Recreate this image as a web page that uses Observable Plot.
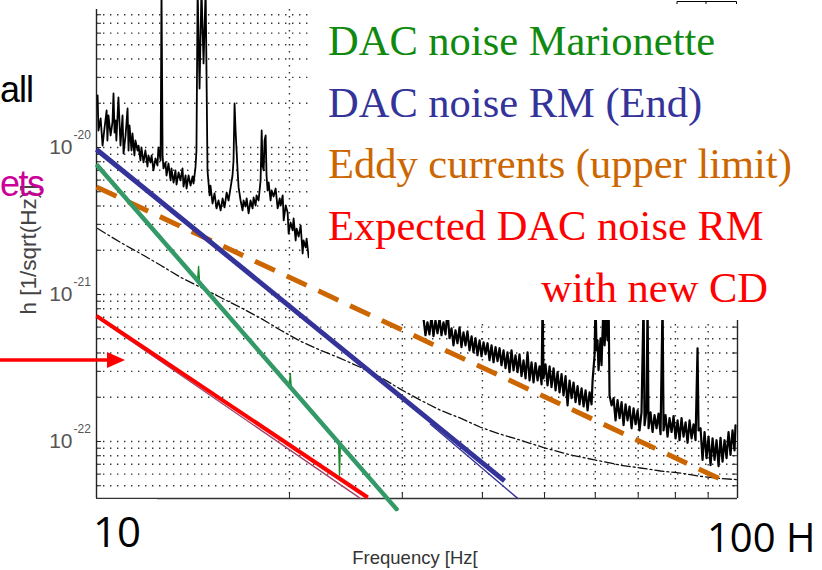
<!DOCTYPE html>
<html><head><meta charset="utf-8">
<script src="https://cdn.jsdelivr.net/npm/d3@7"></script>
<script src="https://cdn.jsdelivr.net/npm/@observablehq/plot@0.6"></script>
<style>
html,body{margin:0;padding:0;background:#fff;}
#wrap{position:relative;width:822px;height:570px;overflow:hidden;background:#fff;}
#wrap svg{position:absolute;left:0;top:0;}
</style></head><body><div id="wrap"></div>
<script>
// ---------- axes ----------
const xDomain = [10, 100];              // Hz
const yDomain = [4.094e-23, 1e-19];     // h [1/sqrt(Hz)]
const xGridTicks = [20, 30, 40, 50, 60, 70, 80, 90];
const yGridTicks = [5e-23, 6e-23, 7e-23, 8e-23, 9e-23,
  1e-22, 2e-22, 3e-22, 4e-22, 5e-22, 6e-22, 7e-22, 8e-22, 9e-22,
  1e-21, 2e-21, 3e-21, 4e-21, 5e-21, 6e-21, 7e-21, 8e-21, 9e-21,
  1e-20, 2e-20, 3e-20, 4e-20, 5e-20, 6e-20, 7e-20, 8e-20];
const yMajorTicks = [1e-22, 1e-21, 1e-20];
const yMajorExponents = ["-22", "-21", "-20"];
const xLabel = "Frequency [Hz[";
const yLabel = "h [1/sqrt(Hz)]";

// ---------- measured noise spectrum (h in units of 1e-21) ----------
const noiseLowHz = [
  10.04, 10.07, 10.15, 10.22, 10.29, 10.37, 10.40, 10.44, 10.52, 10.59,
  10.63, 10.67, 10.71, 10.74, 10.82, 10.90, 10.98, 11.02, 11.10, 11.18,
  11.22, 11.26, 11.34, 11.38, 11.46, 11.50, 11.59, 11.63, 11.71, 11.75,
  11.84, 11.92, 12.01, 12.05, 12.14, 12.19, 12.27, 12.36, 12.45, 12.49,
  12.59, 12.63, 12.68, 12.72, 12.81, 12.86, 12.95, 13.05, 13.09, 13.19,
  13.28, 13.33, 13.43, 13.52, 13.62, 13.67, 13.77, 13.82, 13.92, 14.02,
  14.12, 14.17, 14.27, 14.32, 14.38, 14.48, 14.58, 14.69, 14.80, 14.90,
  15.01, 15.06, 15.17, 15.28, 15.39, 15.50, 15.62, 15.73, 15.84, 15.96,
  16.07, 16.19, 16.30, 16.36, 16.42, 16.48, 16.54, 16.60, 16.66, 16.78,
  16.90, 16.96, 17.08, 17.15, 17.27, 17.39, 17.52, 17.58, 17.71, 17.77,
  17.90, 18.03, 18.10, 18.16, 18.23, 18.29, 18.36, 18.42, 18.49, 18.56,
  18.69, 18.76, 18.89, 19.03, 19.17, 19.31, 19.38, 19.52, 19.59, 19.73,
  19.87, 19.94, 20.08, 20.23, 20.30, 20.45, 20.52, 20.67, 20.82, 20.97,
  21.04, 21.20, 21.27, 21.43, 21.58, 22.37, 23.60, 24.90, 26.28, 27.73,
  29.27, 30.89];
const noiseLowH = [
  22.6, 13.05, 15.75, 10.31, 13.47, 17.85, 11.16, 16.51, 12.07, 14.80,
  23.30, 12.65, 15.27, 11.16, 21.88, 10.31, 16.51, 9.10, 12.07, 18.42,
  9.54, 14.12, 9.54, 12.45, 8.82, 11.16, 9.54, 10.31, 8.16, 10.0,
  7.91, 9.54, 7.42, 8.82, 7.91, 8.82, 6.98, 8.42, 7.54, 10.0,
  8.16, 120, 8.82, 7.20, 7.91, 6.45, 7.78, 5.97, 7.20, 5.78,
  6.98, 5.60, 6.76, 5.97, 7.20, 5.43, 6.45, 5.26, 6.45, 5.51,
  6.35, 5.69, 7.31, 9.54, 120, 25.2, 120, 37.3, 120, 6.98,
  4.72, 5.51, 4.16, 4.87, 3.85, 4.36, 3.73, 4.50, 3.91, 4.94,
  4.36, 5.35, 6.45, 8.16, 19.92, 13.05, 9.54, 6.98, 5.35, 4.36,
  3.73, 4.36, 3.97, 4.50, 3.56, 4.36, 3.85, 4.57, 4.03, 4.72,
  4.36, 5.97, 13.05, 7.54, 6.98, 11.16, 12.07, 6.45, 5.10, 5.78,
  4.36, 5.10, 4.64, 5.26, 3.85, 4.50, 4.03, 4.72, 3.19, 4.03,
  3.61, 2.60, 3.09, 2.73, 3.29, 2.33, 2.81, 2.48, 2.95, 1.90,
  2.33, 2.09, 2.40, 1.79, 1.99, 1.65, 1.50, 1.35, 1.21, 1.10,
  1.03, 0.91];
const noiseHighHz = [
  32.02, 32.37, 32.60, 32.83, 33.07, 33.31, 33.55, 33.79, 34.04, 34.29,
  34.53, 34.78, 35.03, 35.29, 35.54, 35.80, 36.05, 36.31, 36.57, 36.84,
  37.10, 37.37, 37.64, 37.91, 38.19, 38.47, 38.74, 39.02, 39.30, 39.59,
  39.87, 40.16, 40.45, 40.74, 41.03, 41.33, 41.63, 41.93, 42.23, 42.54,
  42.84, 43.15, 43.46, 43.77, 44.09, 44.41, 44.73, 45.05, 45.38, 45.70,
  46.03, 46.37, 46.70, 47.04, 47.38, 47.72, 48.06, 48.41, 48.76, 49.11,
  49.47, 49.65, 49.82, 50.18, 50.54, 50.91, 51.27, 51.65, 52.02, 52.39,
  52.77, 53.15, 53.53, 53.92, 54.31, 54.70, 55.10, 55.49, 55.89, 56.30,
  56.70, 57.11, 57.53, 57.94, 58.36, 58.78, 59.20, 59.42, 59.84, 60.05,
  60.27, 60.49, 60.70, 61.14, 61.36, 61.81, 62.03, 62.25, 62.47, 62.70,
  62.93, 63.15, 63.61, 64.07, 64.53, 65.00, 65.47, 65.94, 66.41, 66.89,
  67.37, 67.86, 68.35, 68.84, 69.34, 69.84, 70.34, 70.84, 71.36, 71.61,
  72.13, 72.39, 72.65, 73.17, 73.70, 74.23, 74.77, 75.31, 75.85, 76.40,
  76.67, 77.22, 77.78, 78.34, 78.91, 79.48, 80.05, 80.63, 81.21, 81.79,
  82.38, 82.98, 83.58, 84.18, 84.79, 85.40, 86.01, 86.63, 86.94, 87.57,
  88.20, 88.84, 89.48, 90.12, 90.77, 91.43, 92.09, 92.75, 93.42, 94.09,
  94.77, 95.45, 96.14, 96.83, 97.52, 98.23, 98.93, 99.28];
const noiseHighH = [
  0.84, 0.687, 0.528, 0.647, 0.536, 0.708, 0.52, 0.668, 0.545, 0.687,
  0.528, 0.647, 0.536, 0.78, 0.504, 0.589, 0.451, 0.571, 0.466, 0.598,
  0.438, 0.553, 0.451, 0.562, 0.417, 0.52, 0.404, 0.504, 0.386, 0.488,
  0.38, 0.473, 0.392, 0.466, 0.357, 0.451, 0.346, 0.438, 0.352, 0.431,
  0.330, 0.417, 0.315, 0.404, 0.296, 0.417, 0.305, 0.386, 0.296, 0.392,
  0.278, 0.357, 0.269, 0.404, 0.260, 0.346, 0.252, 0.341, 0.260, 0.325,
  0.245, 0.91, 0.269, 0.335, 0.241, 0.325, 0.234, 0.315, 0.223, 0.296,
  0.216, 0.287, 0.206, 0.278, 0.176, 0.260, 0.197, 0.252, 0.185, 0.238,
  0.179, 0.230, 0.173, 0.223, 0.163, 0.216, 0.179, 0.260, 0.386, 0.91,
  0.417, 0.488, 0.305, 0.504, 0.330, 0.91, 0.451, 0.571, 0.91, 0.488,
  0.91, 0.206, 0.176, 0.197, 0.139, 0.191, 0.144, 0.185, 0.129, 0.179,
  0.139, 0.173, 0.123, 0.168, 0.131, 0.163, 0.119, 0.158, 0.91, 0.129,
  0.163, 0.91, 0.123, 0.158, 0.116, 0.151, 0.123, 0.155, 0.112, 0.91,
  0.119, 0.151, 0.108, 0.144, 0.116, 0.149, 0.105, 0.139, 0.102, 0.144,
  0.108, 0.135, 0.098, 0.139, 0.105, 0.131, 0.102, 0.43, 0.119, 0.123,
  0.075, 0.116, 0.077, 0.108, 0.069, 0.105, 0.075, 0.102, 0.068, 0.106,
  0.073, 0.102, 0.077, 0.116, 0.081, 0.119, 0.087, 0.129];

// ---------- dash-dot reference curve ----------
const refHz = [10.04, 10.90, 11.71, 12.59, 13.52, 14.53, 15.62, 16.78, 18.03, 19.38,
  20.82, 22.37, 24.01, 25.80, 27.73, 29.79, 32.02, 34.41, 36.97, 39.73,
  42.69, 45.87, 49.82, 54.90, 59.84, 65.70, 70.59, 75.85, 81.50, 87.57, 94.09, 100];
const refH = [2.81, 2.26, 1.90, 1.58, 1.31, 1.12, 0.954, 0.816, 0.69, 0.571,
  0.48, 0.417, 0.368, 0.32, 0.274, 0.227, 0.191, 0.163, 0.144, 0.125,
  0.112, 0.102, 0.091, 0.081, 0.075, 0.069, 0.066, 0.063, 0.061, 0.058, 0.056, 0.055];

// ---------- thin original traces ----------
const thinBlueHz = [33.19, 45.4];
const thinBlueH = [0.131, 0.041];
const thinRedHz = [10, 25.8];
const thinRedH = [0.70, 0.041];
const thinGreenHz = [10, 14.38, 14.43, 14.48, 19.99, 20.06, 20.13, 23.86, 23.94, 24.01, 29.5];
const thinGreenH = [7.66, 1.25, 1.55, 1.21, 0.237, 0.29, 0.23, 0.0985, 0.059, 0.095, 0.034];

// ---------- thick annotation lines ----------
const marionetteHz = [10, 29.5];
const marionetteH = [7.66, 0.034];
const rmEndHz = [10, 43.3];
const rmEndH = [9.7, 0.054];
const eddyHz = [10, 95.1];
const eddyH = [5.39, 0.0543];
const expectedHz = [10, 26.5];
const expectedH = [0.716, 0.0416];

// ---------- legend ----------
const legendLines = ["DAC noise Marionette", "DAC noise RM (End)", "Eddy currents (upper limit)", "Expected DAC noise RM", "with new CD"];
const legendColors = ["#0f8a0f", "#333399", "#cc6600", "#ff0000", "#ff0000"];

const pts = (hz, h) => hz.slice(0, Math.min(hz.length, h.length)).map((f, i) => ({f, h: h[i] * 1e-21}));
const noiseLow = pts(noiseLowHz, noiseLowH);
const noiseHigh = pts(noiseHighHz, noiseHighH);

const base = {
  width: 822, height: 570,
  marginLeft: 96, marginRight: 85, marginTop: 0, marginBottom: 72,
  x: {type: "log", domain: xDomain, axis: null},
  y: {type: "log", domain: yDomain, axis: null},
  style: {fontFamily: "Liberation Sans, Arial, sans-serif", background: "transparent", overflow: "visible"}
};

const dotted = {stroke: "#111", strokeWidth: 1.4, strokeDasharray: "1.4,5.6"};
const plotA = Plot.plot({
  ...base,
  marks: [
    Plot.gridY(yGridTicks, {...dotted, strokeOpacity: 0.85}),
    Plot.gridX(xGridTicks, {...dotted, strokeOpacity: 0.85, insetTop: 9}),
    Plot.tickY(yGridTicks, {y: d => d, insetRight: 636, stroke: "#222"}),
    Plot.tickY(yGridTicks, {y: d => d, insetLeft: 636, stroke: "#222"}),
    Plot.tickX(xGridTicks, {x: d => d, insetTop: 493, stroke: "#222"}),
    Plot.ruleX([xDomain[0], xDomain[1]], {stroke: "#222", strokeWidth: 1.4, insetTop: 9}),
    Plot.ruleY([yDomain[0]], {stroke: "#333", strokeWidth: 1.4}),
    Plot.line(pts(refHz, refH), {x: "f", y: "h", stroke: "#111", strokeWidth: 1.3, strokeDasharray: "9,3,2,3"}),
    Plot.line(pts(thinRedHz, thinRedH), {x: "f", y: "h", stroke: "#a0446a", strokeWidth: 1.4}),
    Plot.line(pts(thinBlueHz, thinBlueH), {x: "f", y: "h", stroke: "#333399", strokeWidth: 1.4}),
    Plot.line(pts(thinGreenHz, thinGreenH), {x: "f", y: "h", stroke: "#1a8a2a", strokeWidth: 1.4}),
    Plot.line(noiseLow, {x: "f", y: "h", stroke: "#000", strokeWidth: 1.8}),
    Plot.line(noiseHigh, {x: "f", y: "h", stroke: "#000", strokeWidth: 2.2}),
    Plot.text(yMajorTicks, {y: d => d, frameAnchor: "left", dx: -24, text: () => "10", textAnchor: "end", fontSize: 21, fill: "#555"}),
    Plot.text(yMajorTicks, {y: d => d, frameAnchor: "left", dx: -23, dy: -12, text: (d, i) => yMajorExponents[i], textAnchor: "start", fontSize: 12, fill: "#555"}),
    Plot.text([yLabel], {frameAnchor: "left", dx: -68, rotate: -90, textAnchor: "middle", lineAnchor: "middle", fontSize: 22.5, fill: "#444"}),
    Plot.text([xLabel], {frameAnchor: "bottom", dx: -2, dy: 59.5, textAnchor: "middle", lineAnchor: "middle", fontSize: 18.5, fill: "#333"})
  ]
});

const wrap = document.getElementById("wrap");
wrap.appendChild(plotA);

// slide annotation layer
const ov = d3.select(wrap).append("svg").attr("width", 822).attr("height", 570);
ov.append("rect").attr("x", 309).attr("y", 0).attr("width", 513).attr("height", 320).attr("fill", "#fff");
ov.append("rect").attr("x", 86).attr("y", 499).attr("width", 71).attr("height", 20).attr("fill", "#fff");
ov.append("path").attr("d", "M677,4V1.5H736.5V4M706,1.5V4").attr("fill", "none").attr("stroke", "#000").attr("stroke-width", 1);
const legendY = [55, 117, 178, 240, 302];
legendLines.forEach((t, i) => {
  ov.append("text").attr("x", i === 4 ? 768 : 328).attr("y", legendY[i])
    .attr("text-anchor", i === 4 ? "end" : "start")
    .attr("fill", legendColors[i]).attr("font-family", "Liberation Serif, Times New Roman, serif")
    .attr("font-size", 42.5).text(t);
});
ov.append("text").attr("x", 0).attr("y", 102).attr("font-family", "Liberation Sans, Arial, sans-serif").attr("font-size", 36).attr("letter-spacing", -1).attr("fill", "#000").text("all");
ov.append("text").attr("x", 0).attr("y", 196).attr("font-family", "Liberation Sans, Arial, sans-serif").attr("font-size", 36).attr("letter-spacing", -1.5).attr("fill", "#cc0099").text("ets");
ov.append("line").attr("x1", 0).attr("x2", 110).attr("y1", 360).attr("y2", 360).attr("stroke", "#ff0000").attr("stroke-width", 3.5);
ov.append("polygon").attr("points", "107,352 125,360 107,368").attr("fill", "#ff0000");
ov.append("text").attr("x", 93).attr("y", 547).attr("font-family", "Open Sans, sans-serif").attr("font-size", 42).attr("fill", "#000").text("10");
ov.append("text").attr("x", 707).attr("y", 552).attr("font-family", "Open Sans, sans-serif").attr("font-size", 40).attr("fill", "#000").text("100 H");

// thick overlay lines
const plotB = Plot.plot({
  ...base,
  marks: [
    Plot.line(pts(eddyHz, eddyH), {x: "f", y: "h", stroke: "#cc6600", strokeWidth: 5, strokeDasharray: "22,13", strokeLinecap: "butt"}),
    Plot.line(pts(rmEndHz, rmEndH), {x: "f", y: "h", stroke: "#333399", strokeWidth: 5, strokeLinecap: "butt"}),
    Plot.line(pts(marionetteHz, marionetteH), {x: "f", y: "h", stroke: "#339966", strokeWidth: 4.5, strokeLinecap: "butt"}),
    Plot.line(pts(expectedHz, expectedH), {x: "f", y: "h", stroke: "#ff0000", strokeWidth: 4, strokeLinecap: "butt"})
  ]
});
wrap.appendChild(plotB);
</script></body></html>
